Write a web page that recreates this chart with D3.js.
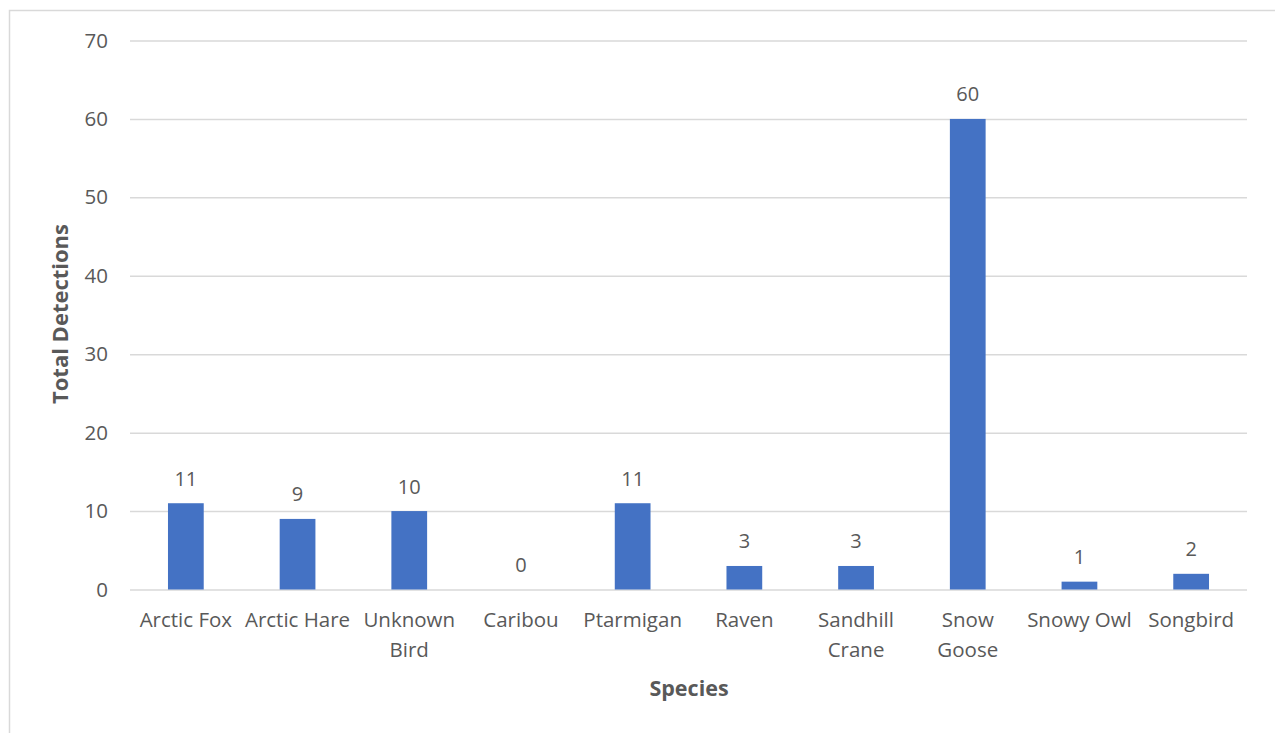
<!DOCTYPE html>
<html>
<head>
<meta charset="utf-8">
<script src="https://cdn.jsdelivr.net/npm/d3@7"></script>
<style>
  html, body { margin: 0; padding: 0; background: #fff; }
  svg { display: block; }
  text { font-family: "Open Sans", "Noto Sans", sans-serif; fill: #595959; }
</style>
</head>
<body>
<svg id="chart" width="1275" height="733"></svg>
<script>
// Detections per species
const species = ["Arctic Fox", "Arctic Hare", "Unknown Bird", "Caribou", "Ptarmigan",
                 "Raven", "Sandhill Crane", "Snow Goose", "Snowy Owl", "Songbird"];
const detections = [11, 9, 10, 0, 11, 3, 3, 60, 1, 2];
const yTicks = [0, 10, 20, 30, 40, 50, 60, 70];
// Category labels as they wrap under the axis
const speciesLines = [["Arctic Fox"], ["Arctic Hare"], ["Unknown", "Bird"], ["Caribou"], ["Ptarmigan"],
                      ["Raven"], ["Sandhill", "Crane"], ["Snow", "Goose"], ["Snowy Owl"], ["Songbird"]];

const svg = d3.select("#chart");
const margin = { left: 130, right: 1247, top: 40.5, bottom: 589.5 };
const labelSize = 20.5;

// Outer chart frame
svg.append("rect")
  .attr("x", 9.5).attr("y", 10.5)
  .attr("width", 1300).attr("height", 800)
  .attr("fill", "none").attr("stroke", "#d9d9d9").attr("stroke-width", 1.5);

const x = d3.scaleBand().domain(species).range([margin.left, margin.right]).paddingInner(0.68).paddingOuter(0.34);
const y = d3.scaleLinear().domain([0, 70]).range([margin.bottom, margin.top]);

// Horizontal gridlines with value labels on the left
const yAxis = d3.axisLeft(y).tickValues(yTicks).tickSize(-(margin.right - margin.left)).tickPadding(22);
const gy = svg.append("g").attr("transform", `translate(${margin.left},0)`).call(yAxis);
gy.select(".domain").remove();
gy.selectAll(".tick line").attr("stroke", "#d9d9d9").attr("stroke-width", 1.5);
gy.selectAll(".tick text").attr("font-size", labelSize).attr("fill", "#595959")
  .style("font-family", "'Open Sans', 'Noto Sans', sans-serif");

// Bars
svg.append("g").selectAll("rect")
  .data(species.map((s, i) => ({ s, v: detections[i] })))
  .join("rect")
  .attr("x", d => x(d.s))
  .attr("width", x.bandwidth())
  .attr("y", d => y(d.v))
  .attr("height", d => y(0) - y(d.v))
  .attr("fill", "#4472C4");

// Value labels above bars
svg.append("g").selectAll("text")
  .data(species.map((s, i) => ({ s, v: detections[i] })))
  .join("text")
  .attr("x", d => x(d.s) + x.bandwidth() / 2)
  .attr("y", d => y(d.v) - 17.5)
  .attr("text-anchor", "middle")
  .attr("font-size", 20)
  .text(d => d.v);

// Category labels
const xl = svg.append("g").selectAll("text")
  .data(species.map((s, i) => ({ s, lines: speciesLines[i] })))
  .join("text")
  .attr("x", d => x(d.s) + x.bandwidth() / 2)
  .attr("y", 627)
  .attr("text-anchor", "middle")
  .attr("font-size", labelSize);
xl.selectAll("tspan")
  .data(d => d.lines.map(l => ({ l, cx: x(d.s) + x.bandwidth() / 2 })))
  .join("tspan")
  .attr("x", d => d.cx)
  .attr("dy", (d, i) => i === 0 ? 0 : 29.5)
  .text(d => d.l);

// Axis titles
svg.append("text")
  .attr("x", 689).attr("y", 696)
  .attr("text-anchor", "middle")
  .attr("font-size", 21.5).attr("font-weight", "bold")
  .text("Species");

svg.append("text")
  .attr("transform", "translate(68,314) rotate(-90)")
  .attr("text-anchor", "middle")
  .attr("font-size", 22).attr("font-weight", "bold")
  .text("Total Detections");
</script>
</body>
</html>
